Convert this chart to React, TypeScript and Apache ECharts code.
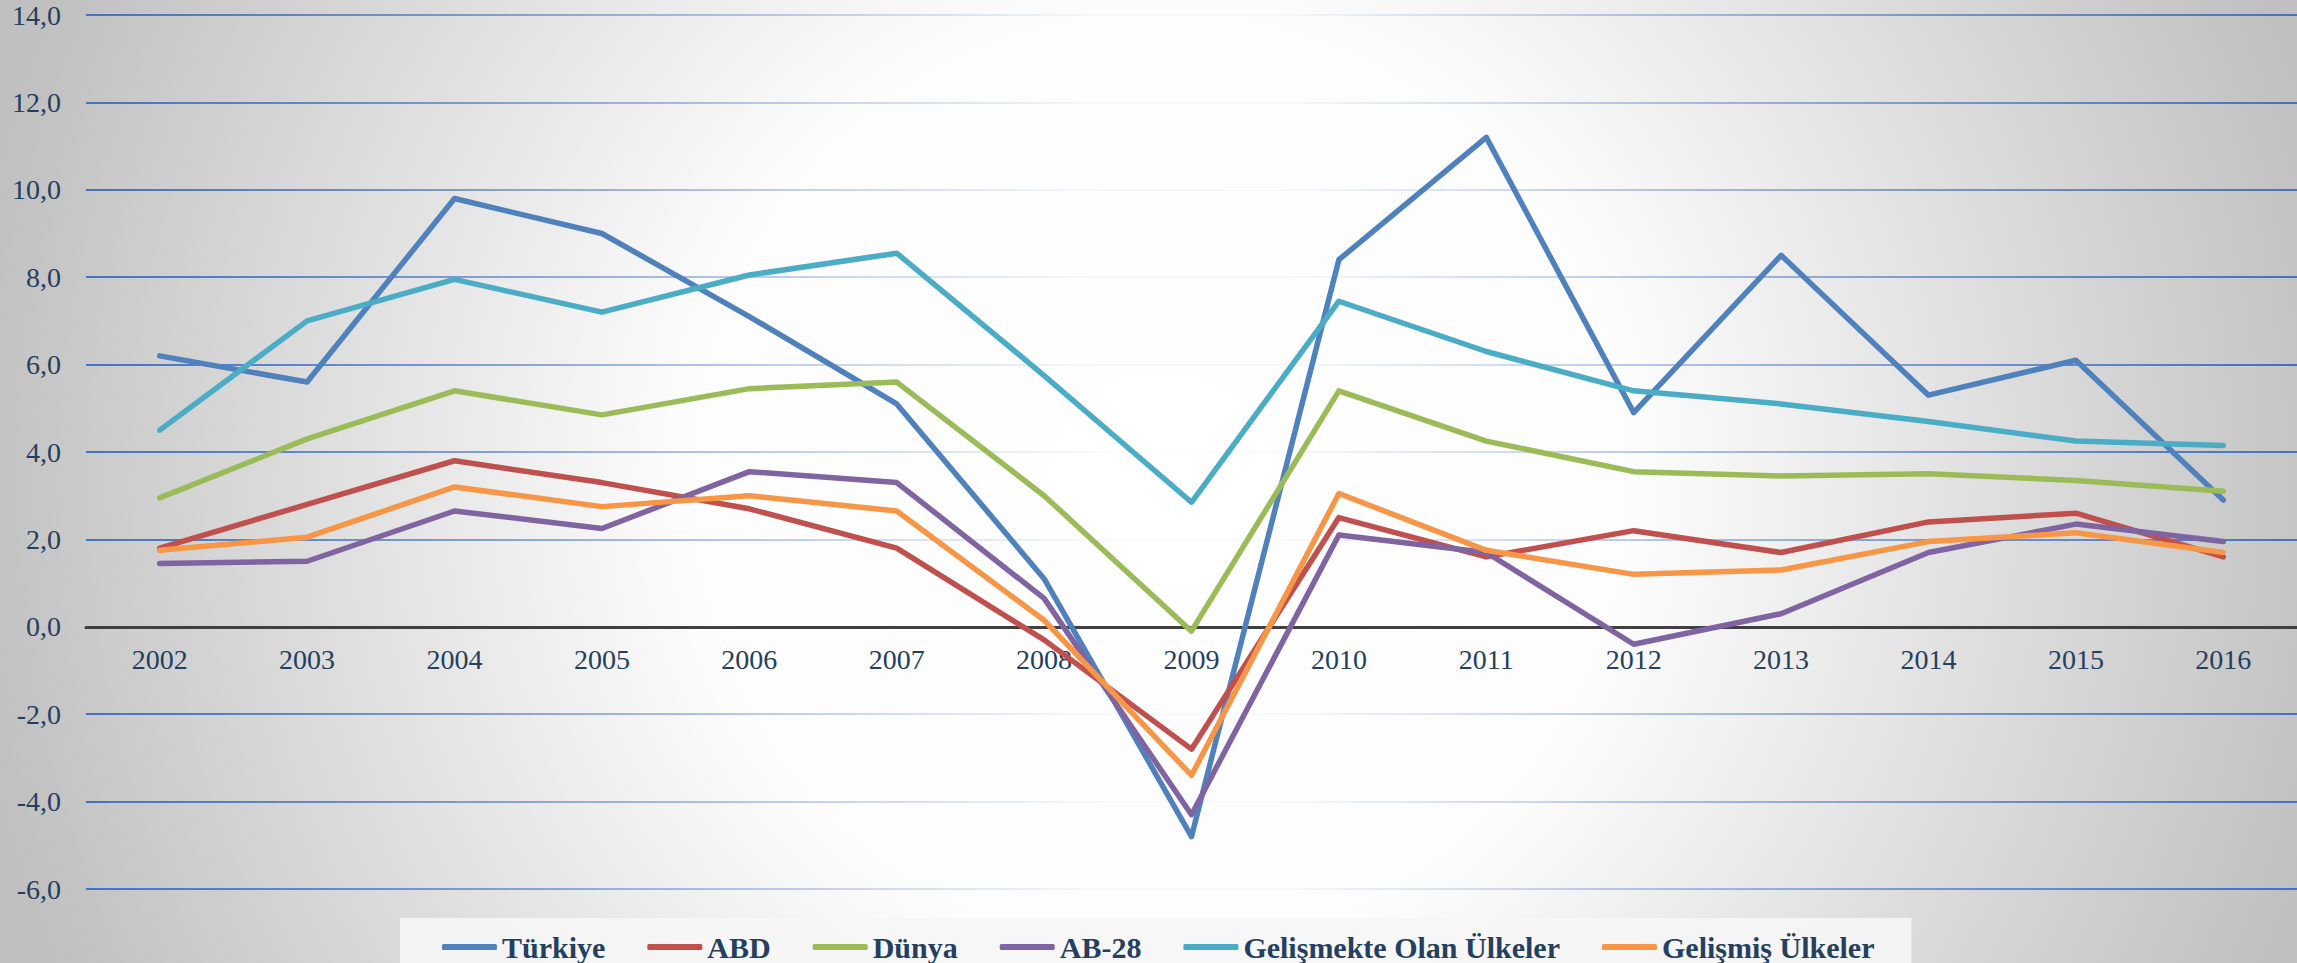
import React, { useEffect, useRef } from "react";
import * as echarts from "echarts";

const years = ["2002", "2003", "2004", "2005", "2006", "2007", "2008", "2009", "2010", "2011", "2012", "2013", "2014", "2015", "2016"];
const turkiye = [6.2, 5.6, 9.8, 9.0, 7.1, 5.1, 1.1, -4.8, 8.4, 11.2, 4.9, 8.5, 5.3, 6.1, 2.9];
const abd = [1.8, 2.8, 3.8, 3.3, 2.7, 1.8, -0.3, -2.8, 2.5, 1.6, 2.2, 1.7, 2.4, 2.6, 1.6];
const dunya = [2.95, 4.3, 5.4, 4.85, 5.45, 5.6, 3.0, -0.1, 5.4, 4.25, 3.55, 3.45, 3.5, 3.35, 3.1];
const ab28 = [1.45, 1.5, 2.65, 2.25, 3.55, 3.3, 0.65, -4.3, 2.1, 1.7, -0.4, 0.3, 1.7, 2.35, 1.95];
const gelismekte = [4.5, 7.0, 7.95, 7.2, 8.05, 8.55, 5.75, 2.85, 7.45, 6.3, 5.4, 5.1, 4.7, 4.25, 4.15];
const gelismis = [1.75, 2.05, 3.2, 2.75, 3.0, 2.65, 0.15, -3.4, 3.05, 1.75, 1.2, 1.3, 1.95, 2.15, 1.7];

const seriesNames = ["Türkiye", "ABD", "Dünya", "AB-28", "Gelişmekte Olan Ülkeler", "Gelişmiş Ülkeler"];
const seriesData = [turkiye, abd, dunya, ab28, gelismekte, gelismis];
const seriesColors = ["#4F81BD", "#C0504D", "#9BBB59", "#8064A2", "#4BACC6", "#F79646"];

const W = 2297;
const H = 963;

export default function App() {
  const ref = useRef<HTMLDivElement>(null);
  useEffect(() => {
    document.body.style.margin = "0";
    const chart = echarts.init(ref.current!, null, { renderer: "svg" });
    const textColor = "#243F60";
    const gridGradient = new echarts.graphic.LinearGradient(
      86, 0, 2298, 0,
      [
        { offset: 0, color: "rgba(68,114,196,1)" },
        { offset: 0.46, color: "rgba(68,114,196,0.03)" },
        { offset: 0.54, color: "rgba(68,114,196,0.03)" },
        { offset: 1, color: "rgba(68,114,196,1)" },
      ],
      true
    );
    chart.setOption({
      animation: false,
      graphic: [
        {
          type: "rect",
          z: -10,
          silent: true,
          shape: { x: 0, y: 0, width: W, height: H },
          style: {
            fill: new echarts.graphic.RadialGradient(
              1160, 480, 1200,
              [
                { offset: 0, color: "#ffffff" },
                { offset: 0.4, color: "#fcfcfc" },
                { offset: 1, color: "#c0c0c0" },
              ],
              true
            ),
          },
        },
      ],
      grid: { left: 86, right: 0, top: 15, bottom: 74, containLabel: false },
      legend: {
        data: seriesNames,
        left: 400,
        top: 918,
        padding: [14, 37, 20, 42],
        backgroundColor: "rgba(246,246,246,0.9)",
        itemGap: 42,
        itemWidth: 55,
        itemHeight: 6,
        icon: "roundRect",
        textStyle: {
          fontFamily: "Liberation Serif",
          fontWeight: "bold",
          fontSize: 30,
          color: textColor,
        },
      },
      xAxis: {
        type: "category",
        data: years,
        boundaryGap: true,
        position: "bottom",
        offset: -262,
        axisLine: { onZero: false, lineStyle: { color: "#404040", width: 3 } },
        axisTick: { show: false },
        axisLabel: {
          fontFamily: "Liberation Serif",
          fontSize: 28,
          color: textColor,
          margin: 18,
        },
        splitLine: { show: false },
      },
      yAxis: {
        type: "value",
        min: -6,
        max: 14,
        interval: 2,
        axisLine: { show: false },
        axisTick: { show: false },
        axisLabel: {
          fontFamily: "Liberation Serif",
          fontSize: 28,
          color: textColor,
          margin: 25,
          formatter: (v: number) => v.toFixed(1).replace(".", ","),
        },
        splitLine: { show: true, lineStyle: { color: gridGradient, width: 2 } },
      },
      series: seriesNames.map((name, i) => ({
        name,
        type: "line",
        data: seriesData[i],
        showSymbol: false,
        symbol: "none",
        color: seriesColors[i],
        lineStyle: { width: 5.5, color: seriesColors[i], cap: "round", join: "round" },
        itemStyle: { color: seriesColors[i] },
      })),
    });
    return () => chart.dispose();
  }, []);
  return <div ref={ref} style={{ position: "absolute", left: 0, top: 0, width: W, height: H }} />;
}
